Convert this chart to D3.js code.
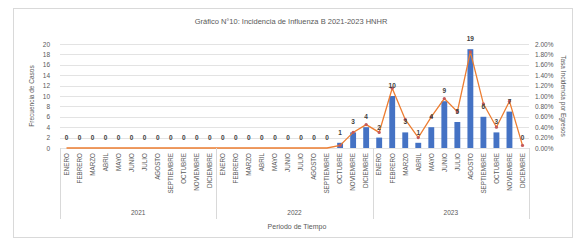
<!DOCTYPE html>
<html>
<head>
<meta charset="utf-8">
<script src="https://cdn.jsdelivr.net/npm/d3@7"></script>
<style>
  body { margin: 0; background: #fff; }
  text { font-family: "Liberation Sans", Arial, sans-serif; fill: #595959; }
</style>
</head>
<body>
<div class="chart"></div>
<script>
const years = ['2021', '2022', '2023']
const months = ['ENERO', 'FEBRERO', 'MARZO', 'ABRIL', 'MAYO', 'JUNIO', 'JULIO',
  'AGOSTO', 'SEPTIEMBRE', 'OCTUBRE', 'NOVIEMBRE', 'DICIEMBRE']

// casos por mes (2021..2023)
const casos = [
  0, 0, 0, 0, 0, 0, 0, 0, 0, 0, 0, 0,
  0, 0, 0, 0, 0, 0, 0, 0, 0, 1, 3, 4,
  2, 10, 3, 1, 4, 9, 5, 19, 6, 3, 7, 0
]
// tasa de incidencia (%)
const tasa = [
  0, 0, 0, 0, 0, 0, 0, 0, 0, 0, 0, 0,
  0, 0, 0, 0, 0, 0, 0, 0, 0, 0.05, 0.3, 0.45,
  0.3, 1.15, 0.55, 0.2, 0.6, 0.95, 0.7, 1.85, 0.85, 0.4, 0.9, 0.05
]
const casosTicks = [0, 2, 4, 6, 8, 10, 12, 14, 16, 18, 20]
const tasaTicks = [0, 0.2, 0.4, 0.6, 0.8, 1.0, 1.2, 1.4, 1.6, 1.8, 2.0]

const rows = []
years.forEach((y) => months.forEach((m) => rows.push({ key: y + '-' + m, year: y, month: m })))
rows.forEach((r, i) => { r.casos = casos[i]; r.tasa = tasa[i] })

const width = 583
const height = 244
const plot = { left: 60, right: 529, top: 44, bottom: 148 }

const svg = d3.select('.chart')
  .append('svg')
  .attr('width', width)
  .attr('height', height)

// marco
svg.append('rect')
  .attr('x', 13.5).attr('y', 8.5)
  .attr('width', 559).attr('height', 229)
  .attr('fill', '#fff').attr('stroke', '#d9d9d9')

const x = d3.scaleBand()
  .domain(rows.map((d) => d.key))
  .range([plot.left, plot.right])
  .paddingInner(0.55)
  .paddingOuter(0.275)

const y = d3.scaleLinear().domain([0, 20]).range([plot.bottom, plot.top])
const y2 = d3.scaleLinear().domain([0, 2]).range([plot.bottom, plot.top])

// grid
svg.append('g')
  .selectAll('line')
  .data(casosTicks)
  .enter()
  .append('line')
  .attr('x1', plot.left).attr('x2', plot.right)
  .attr('y1', (d) => Math.round(y(d)) + 0.5)
  .attr('y2', (d) => Math.round(y(d)) + 0.5)
  .attr('stroke', '#e3e3e3')

// eje izquierdo
const yAxis = svg.append('g')
  .attr('transform', `translate(${plot.left},0)`)
  .call(d3.axisLeft(y).tickValues(casosTicks).tickSize(0).tickPadding(10))
yAxis.select('.domain').remove()
yAxis.selectAll('text').attr('font-size', 6.5).style('fill', '#595959')

// eje derecho
const y2Axis = svg.append('g')
  .attr('transform', `translate(${plot.right},0)`)
  .call(d3.axisRight(y2).tickValues(tasaTicks).tickSize(0).tickPadding(6)
    .tickFormat((d) => d.toFixed(2) + '%'))
y2Axis.select('.domain').remove()
y2Axis.selectAll('text').attr('font-size', 6.5).style('fill', '#595959')

// barras
svg.append('g')
  .selectAll('rect')
  .data(rows)
  .enter()
  .append('rect')
  .attr('x', (d) => x(d.key))
  .attr('y', (d) => y(d.casos))
  .attr('width', x.bandwidth())
  .attr('height', (d) => plot.bottom - y(d.casos))
  .attr('fill', '#4472c4')

// linea de tasa
const line = d3.line()
  .x((d) => x(d.key) + x.bandwidth() / 2)
  .y((d) => y2(d.tasa))

svg.append('path')
  .datum(rows)
  .attr('fill', 'none')
  .attr('stroke', '#ed7d31')
  .attr('stroke-width', 1.3)
  .attr('d', line)

svg.append('g')
  .selectAll('circle')
  .data(rows.filter((d) => d.tasa > 0))
  .enter()
  .append('circle')
  .attr('cx', (d) => x(d.key) + x.bandwidth() / 2)
  .attr('cy', (d) => y2(d.tasa))
  .attr('r', 1.6)
  .attr('fill', '#c55a5a')

// etiquetas de casos
svg.append('g')
  .selectAll('text')
  .data(rows)
  .enter()
  .append('text')
  .attr('x', (d) => x(d.key) + x.bandwidth() / 2)
  .attr('y', (d) => y(d.casos) - 8)
  .attr('text-anchor', 'middle')
  .attr('font-size', 6.5)
  .attr('font-weight', 'bold')
  .style('fill', '#404040')
  .text((d) => d.casos)

// meses
svg.append('g')
  .selectAll('text')
  .data(rows)
  .enter()
  .append('text')
  .attr('transform', (d) => `translate(${x(d.key) + x.bandwidth() / 2 + 2.3},${plot.bottom + 5}) rotate(-90)`)
  .attr('text-anchor', 'end')
  .attr('font-size', 6.3)
  .text((d) => d.month)

// separadores de años
const groupW = (plot.right - plot.left) / years.length
svg.append('g')
  .selectAll('line')
  .data(d3.range(years.length + 1))
  .enter()
  .append('line')
  .attr('x1', (i) => Math.round(plot.left + i * groupW) + 0.5)
  .attr('x2', (i) => Math.round(plot.left + i * groupW) + 0.5)
  .attr('y1', plot.bottom)
  .attr('y2', 219)
  .attr('stroke', '#d9d9d9')

svg.append('g')
  .selectAll('text')
  .data(years)
  .enter()
  .append('text')
  .attr('x', (d, i) => plot.left + (i + 0.5) * groupW)
  .attr('y', 215)
  .attr('text-anchor', 'middle')
  .attr('font-size', 6.5)
  .text((d) => d)

// titulos
svg.append('text')
  .attr('x', 291).attr('y', 24)
  .attr('text-anchor', 'middle')
  .attr('font-size', 7.5)
  .text('Gráfico N°10: Incidencia de Influenza B 2021-2023 HNHR')

svg.append('text')
  .attr('x', 297).attr('y', 229)
  .attr('text-anchor', 'middle')
  .attr('font-size', 7)
  .text('Periodo de Tiempo')

svg.append('text')
  .attr('transform', `translate(34,${(plot.top + plot.bottom) / 2}) rotate(-90)`)
  .attr('text-anchor', 'middle')
  .attr('font-size', 6.5)
  .text('Frecuencia de Casos')

svg.append('text')
  .attr('transform', `translate(561,${(plot.top + plot.bottom) / 2}) rotate(90)`)
  .attr('text-anchor', 'middle')
  .attr('font-size', 6.5)
  .text('Tasa Incidencia por Egresos')
</script>
</body>
</html>
